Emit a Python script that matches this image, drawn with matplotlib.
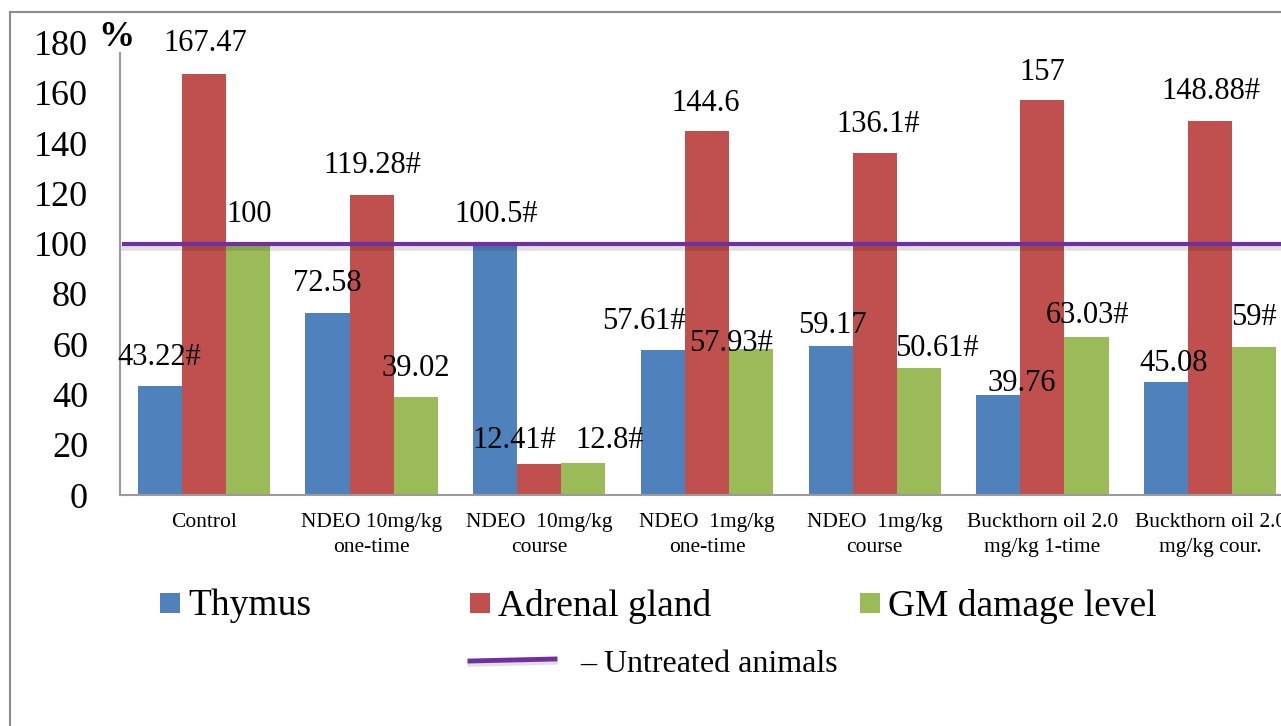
import matplotlib
matplotlib.use("Agg")
import matplotlib.pyplot as plt
import numpy as np
from matplotlib.lines import Line2D
from matplotlib.patches import Rectangle

categories = ["Control", "NDEO 10mg/kg\none-time", "NDEO  10mg/kg\ncourse",
              "NDEO  1mg/kg\none-time", "NDEO  1mg/kg\ncourse",
              "Buckthorn oil 2.0\nmg/kg 1-time", "Buckthorn oil 2.0\nmg/kg cour."]
thymus = [43.22, 72.58, 100.5, 57.61, 59.17, 39.76, 45.08]
adrenal = [167.47, 119.28, 12.41, 144.6, 136.1, 157, 148.88]
gm = [100, 39.02, 12.8, 57.93, 50.61, 63.03, 59]
thymus_lbl = ["43.22#", "72.58", "100.5#", "57.61#", "59.17", "39.76", "45.08"]
adrenal_lbl = ["167.47", "119.28#", "12.41#", "144.6", "136.1#", "157", "148.88#"]
gm_lbl = ["100", "39.02", "12.8#", "57.93#", "50.61#", "63.03#", "59#"]
untreated = 100
yticks = [0, 20, 40, 60, 80, 100, 120, 140, 160, 180]

# label offsets in pixels (dx, dy above bar top)
thymus_off = [(0, 29), (0, 29), (1, 28), (-19, 29), (2, 21), (23, 12), (8, 18)]
adrenal_off = [(1, 30), (1, 30), (-25, 23), (-1, 28), (3, 28), (0, 28), (1, 29)]
gm_off = [(1, 29), (0, 28), (26, 22), (-20, 6), (18, 19), (1, 21), (0, 29)]

serif = ["Liberation Serif", "DejaVu Serif"]
plt.rcParams['font.family'] = serif

W, H = 1281, 726
fig = plt.figure(figsize=(W / 100, H / 100), dpi=100)

ax = fig.add_axes([120 / W, 1 - 495 / H, 1174 / W, (495 - 42.5) / H])
x = np.arange(len(categories))
bw = 0.263
colors = ["#4F81BD", "#C0504D", "#9BBB59"]
series = [(thymus, thymus_lbl, thymus_off), (adrenal, adrenal_lbl, adrenal_off), (gm, gm_lbl, gm_off)]
for i, (vals, lbls, offs) in enumerate(series):
    pos = x + (i - 1) * bw
    ax.bar(pos, vals, width=bw, color=colors[i], edgecolor="none", zorder=2)
    for p, v, l, o in zip(pos, vals, lbls, offs):
        ax.annotate(l, (p, v), xytext=(o[0] * 0.72, o[1] * 0.72), textcoords="offset points",
                    ha="center", va="center", fontsize=22, color="black", zorder=5)

# untreated line with shadow
ax.axhline(untreated - 1.6, xmin=4 / 1174, color="#000000", alpha=0.12, lw=4, zorder=3)
ax.axhline(untreated, xmin=4 / 1174, color="#7030A0", lw=3, zorder=4)

ax.set_xlim(-0.5, len(categories) - 0.5)
ax.set_ylim(0, 180)
ax.set_yticks(yticks)
ax.set_xticks(x)
ax.set_xticklabels(categories, fontsize=15.5, linespacing=1.4)
ax.tick_params(axis="x", length=0, pad=13)
ax.tick_params(axis="y", length=0, pad=23, labelsize=26)
for s in ["top", "right"]:
    ax.spines[s].set_visible(False)
for s in ["left", "bottom"]:
    ax.spines[s].set_color("#9a9a9a")
    ax.spines[s].set_linewidth(1.5)
ax.spines["left"].set_bounds(0, 176)

fig.text(116 / W, 1 - 38 / H, "%", fontsize=26, fontweight="bold", ha="center", va="center")

# outer frame
fig.add_artist(Line2D([10 / W, 10 / W], [0, 1 - 12 / H], transform=fig.transFigure, color="#8c8c8c", lw=1.5))
fig.add_artist(Line2D([10 / W, 1], [1 - 12 / H, 1 - 12 / H], transform=fig.transFigure, color="#8c8c8c", lw=1.5))

# legend
legend_items = [("Thymus", colors[0], 160), ("Adrenal gland", colors[1], 470), ("GM damage level", colors[2], 860)]
for name, c, px in legend_items:
    fig.add_artist(Rectangle((px / W, 1 - 613 / H), 20 / W, 20 / H, transform=fig.transFigure,
                             facecolor=c, edgecolor="none"))
    fig.text((px + 28) / W, 1 - 606 / H, name, fontsize=27, ha="left", va="center")
fig.add_artist(Line2D([470 / W, 555 / W], [1 - 664 / H, 1 - 662 / H], transform=fig.transFigure,
                      color="#000000", alpha=0.12, lw=4))
fig.add_artist(Line2D([470 / W, 555 / W], [1 - 661 / H, 1 - 659 / H], transform=fig.transFigure,
                      color="#7030A0", lw=3.5))
fig.text(580 / W, 1 - 664 / H, "– Untreated animals", fontsize=23, ha="left", va="center")

fig.savefig("out.png", dpi=100)
